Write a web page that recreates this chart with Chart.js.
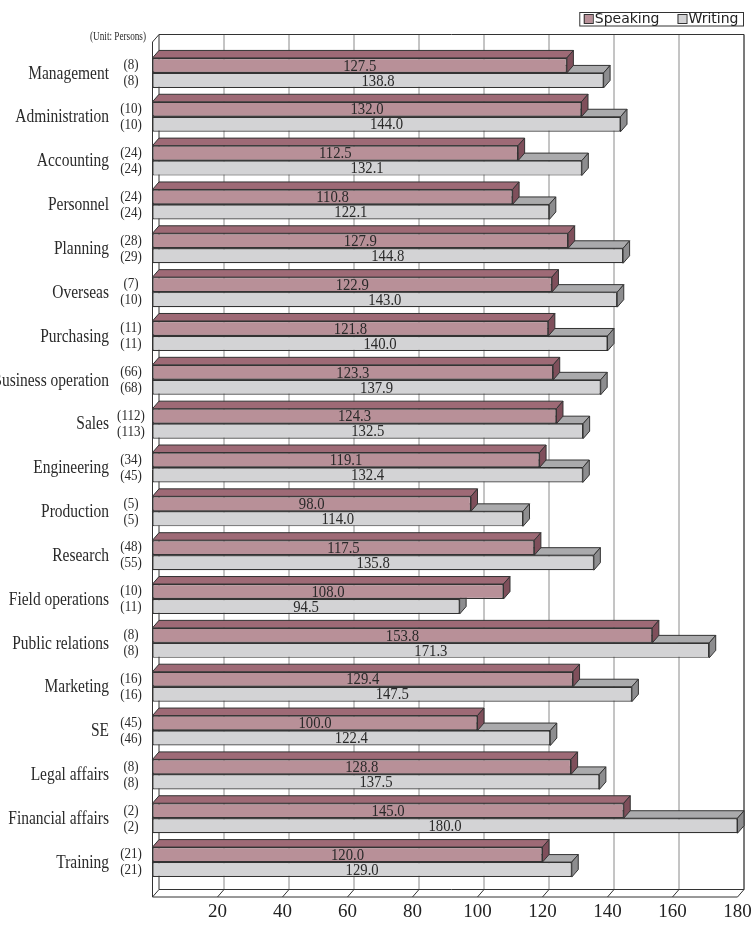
<!DOCTYPE html>
<html>
<head>
<meta charset="utf-8">
<script src="https://cdn.jsdelivr.net/npm/chart.js@4.4.1/dist/chart.umd.min.js"></script>
<style>
    body { margin: 0; background: #fff; }
    #wrap { width: 752px; height: 926px; position: relative; }
</style>
</head>
<body>
<div id="wrap"><canvas id="chart"></canvas></div>
<script>
// Data
const categories = ['Management', 'Administration', 'Accounting', 'Personnel', 'Planning', 'Overseas', 'Purchasing',
    'Business operation', 'Sales', 'Engineering', 'Production', 'Research', 'Field operations', 'Public relations',
    'Marketing', 'SE', 'Legal affairs', 'Financial affairs', 'Training'];
const speaking = [127.5, 132.0, 112.5, 110.8, 127.9, 122.9, 121.8, 123.3, 124.3, 119.1, 98.0, 117.5, 108.0, 153.8, 129.4, 100.0, 128.8, 145.0, 120.0];
const writing = [138.8, 144.0, 132.1, 122.1, 144.8, 143.0, 140.0, 137.9, 132.5, 132.4, 114.0, 135.8, 94.5, 171.3, 147.5, 122.4, 137.5, 180.0, 129.0];
const speakingCount = [8, 10, 24, 24, 28, 7, 11, 66, 112, 34, 5, 48, 10, 8, 16, 45, 8, 2, 21];
const writingCount = [8, 10, 24, 24, 29, 10, 11, 68, 113, 45, 5, 55, 11, 8, 16, 46, 8, 2, 21];
const xTicks = [20, 40, 60, 80, 100, 120, 140, 160, 180];

// 3D look
const DX = 6.5, DY = -7.5;
const SERIF = '"Liberation Serif", "DejaVu Serif", serif';
const faces = [
    { front: '#b89098', top: '#9e6a76', side: '#7f4f5b' },
    { front: '#d3d3d5', top: '#aaaaac', side: '#8d8d8f' }
];

function poly(ctx, pts, fill) {
    ctx.beginPath();
    ctx.moveTo(pts[0][0], pts[0][1]);
    for (let i = 1; i < pts.length; i++) ctx.lineTo(pts[i][0], pts[i][1]);
    ctx.closePath();
    ctx.fillStyle = fill;
    ctx.fill();
    ctx.stroke();
}

function line(ctx, x1, y1, x2, y2) {
    ctx.beginPath();
    ctx.moveTo(x1, y1);
    ctx.lineTo(x2, y2);
    ctx.stroke();
}

// condensed text like the original's typeface
function squeezed(ctx, text, x, y, font, scaleX, align) {
    ctx.save();
    ctx.font = font;
    ctx.textAlign = align;
    ctx.textBaseline = 'middle';
    ctx.translate(x, y);
    ctx.scale(scaleX, 1);
    ctx.fillText(text, 0, 0);
    ctx.restore();
}

const box3d = {
    id: 'box3d',
    beforeDatasetsDraw(chart) {
        const { ctx, chartArea: a, scales: { x } } = chart;
        const top = a.top - 9, bottom = a.bottom + 13;
        ctx.save();
        ctx.lineWidth = 1;
        // back wall grid
        ctx.strokeStyle = '#8a8a8a';
        xTicks.forEach(v => {
            const px = x.getPixelForValue(v) + DX;
            line(ctx, px, top + DY, px, bottom + DY);
        });
        ctx.strokeStyle = '#333';
        line(ctx, a.left + DX, top + DY, a.left + DX, bottom + DY);
        line(ctx, a.left + DX, top + DY, a.right + DX, top + DY);
        line(ctx, x.getPixelForValue(180) + DX, top + DY, x.getPixelForValue(180) + DX, bottom + DY);
        // left wall
        line(ctx, a.left, top, a.left, bottom);
        line(ctx, a.left, top, a.left + DX, top + DY);
        // floor
        line(ctx, a.left, bottom, a.right, bottom);
        line(ctx, a.left + DX, bottom + DY, a.right + DX, bottom + DY);
        [0].concat(xTicks).forEach(v => {
            const px = x.getPixelForValue(v);
            line(ctx, px, bottom, px + DX, bottom + DY);
        });
        ctx.restore();
    },
    beforeDatasetDraw(chart, args) {
        const { ctx } = chart;
        const f = faces[args.index];
        ctx.save();
        ctx.strokeStyle = '#333';
        ctx.lineWidth = 1;
        args.meta.data.forEach(bar => {
            const p = bar.getProps(['x', 'y', 'base', 'height'], true);
            const t = p.y - p.height / 2, b = p.y + p.height / 2;
            poly(ctx, [[p.base, t], [p.base + DX, t + DY], [p.x + DX, t + DY], [p.x, t]], f.top);
            poly(ctx, [[p.x, t], [p.x + DX, t + DY], [p.x + DX, b + DY], [p.x, b]], f.side);
        });
        ctx.restore();
    },
    afterDatasetsDraw(chart) {
        const { ctx, scales: { y } } = chart;
        ctx.save();
        ctx.fillStyle = '#2a2a2a';
        // values inside the bars
        chart.data.datasets.forEach((ds, di) => {
            chart.getDatasetMeta(di).data.forEach((bar, i) => {
                const p = bar.getProps(['x', 'y', 'base'], true);
                squeezed(ctx, ds.data[i].toFixed(1), (p.base + p.x) / 2, p.y + 1, '16px ' + SERIF, 0.92, 'center');
            });
        });
        // category names and respondent counts
        const sMeta = chart.getDatasetMeta(0).data, wMeta = chart.getDatasetMeta(1).data;
        categories.forEach((c, i) => {
            squeezed(ctx, c, 109, y.getPixelForValue(i) + 1, '18px ' + SERIF, 0.86, 'right');
            squeezed(ctx, '(' + speakingCount[i] + ')', 131, sMeta[i].y, '14.5px ' + SERIF, 0.9, 'center');
            squeezed(ctx, '(' + writingCount[i] + ')', 131, wMeta[i].y + 1, '14.5px ' + SERIF, 0.9, 'center');
        });
        squeezed(ctx, '(Unit: Persons)', 146, 37, '11.5px ' + SERIF, 0.8, 'right');
        ctx.restore();
    },
    afterDraw(chart) {
        // framed legend, top right
        const { ctx } = chart;
        ctx.save();
        ctx.font = '14px "DejaVu Sans", sans-serif';
        ctx.textBaseline = 'middle';
        const right = 743, top = 12, h = 13.5, sq = 9;
        const items = chart.data.datasets.map((ds, i) => ({ label: ds.label, color: faces[i].front }));
        const widths = items.map(it => sq + 2 + ctx.measureText(it.label).width);
        const gap = 18, pad = 4.5;
        const total = pad * 2 + widths.reduce((s, w) => s + w, 0) + gap * (items.length - 1);
        let x = right - total;
        ctx.fillStyle = '#fff';
        ctx.fillRect(x, top, total, h);
        ctx.strokeStyle = '#333';
        ctx.lineWidth = 1;
        ctx.strokeRect(x + 0.5, top + 0.5, total, h);
        x += pad;
        items.forEach((it, i) => {
            ctx.fillStyle = it.color;
            ctx.fillRect(x, top + 2.5, sq, sq);
            ctx.strokeRect(x + 0.5, top + 2.5, sq, sq);
            ctx.fillStyle = '#222';
            ctx.fillText(it.label, x + sq + 2, top + h / 2 + 1);
            x += widths[i] + gap;
        });
        ctx.restore();
    }
};

const ctx = document.getElementById('chart').getContext('2d');
new Chart(ctx, {
    type: 'bar',
    data: {
        labels: categories,
        datasets: [
            { label: 'Speaking', data: speaking, backgroundColor: faces[0].front },
            { label: 'Writing', data: writing, backgroundColor: faces[1].front }
        ]
    },
    options: {
        indexAxis: 'y',
        responsive: true,
        maintainAspectRatio: false,
        animation: false,
        layout: { padding: { top: 51, right: 14.5, left: 0, bottom: 0 } },
        datasets: {
            bar: {
                borderColor: '#333',
                borderWidth: 1.2,
                borderSkipped: false,
                categoryPercentage: 0.684,
                barPercentage: 1.0
            }
        },
        plugins: {
            legend: { display: false },
            tooltip: { enabled: false }
        },
        scales: {
            x: {
                min: 0,
                max: 180,
                afterFit(scale) {
                    scale.height = 42;
                    scale.paddingLeft = 0;
                    scale.paddingRight = 0;
                },
                grid: { display: false, drawTicks: false },
                border: { display: false },
                ticks: {
                    stepSize: 20,
                    padding: 17,
                    color: '#222',
                    font: { family: SERIF, size: 19 },
                    callback: v => (v === 0 ? '' : v)
                }
            },
            y: {
                afterFit(scale) { scale.width = 152.5; },
                grid: { display: false, drawTicks: false },
                border: { display: false },
                ticks: { display: false }
            }
        }
    },
    plugins: [box3d]
});
</script>
</body>
</html>
